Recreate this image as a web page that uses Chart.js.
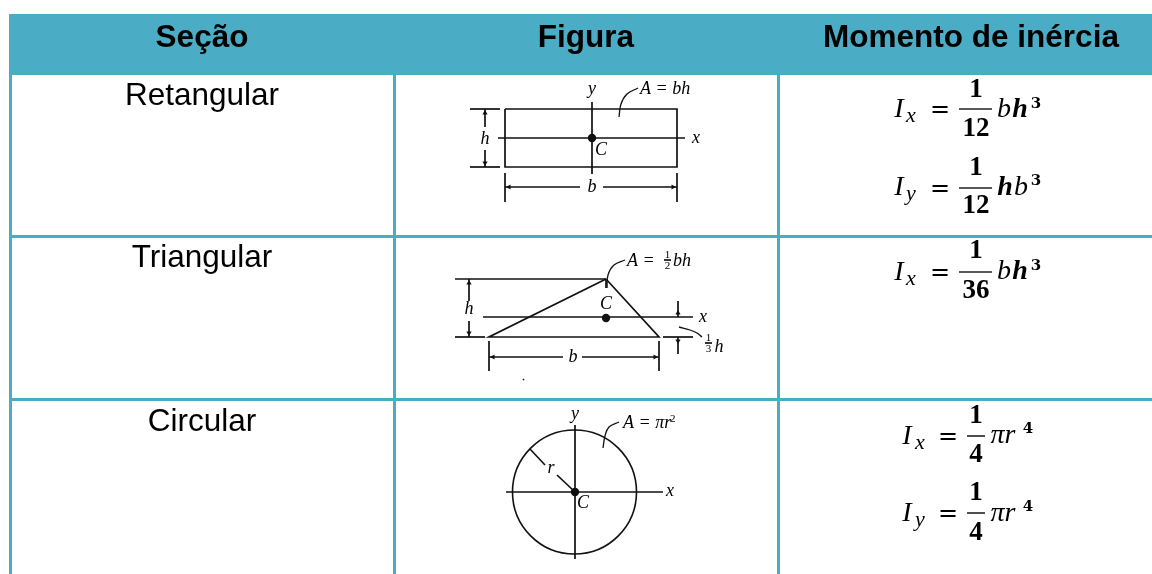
<!DOCTYPE html>
<html>
<head>
<meta charset="utf-8">
<title>Momento de inércia</title>
<script src="https://cdn.jsdelivr.net/npm/chart.js@4/dist/chart.umd.min.js"></script>
<style>
    html, body { margin: 0; padding: 0; background: #fff; }
    #wrap { width: 1152px; height: 574px; position: relative; }
</style>
</head>
<body>
<div id="wrap"><canvas id="myChart"></canvas></div>
<script>
// Table text
const headerTitles = ['Seção', 'Figura', 'Momento de inércia'];
const sectionNames = ['Retangular', 'Triangular', 'Circular'];

// Table rules, in picture units
const headerBand = [[9, 44.5], [1152, 44.5]];
const tableRules = [
    [[10.5, 14], [10.5, 574]],
    [[394.5, 75], [394.5, 574]],
    [[778.5, 75], [778.5, 574]],
    [[9, 236.5], [1152, 236.5]],
    [[9, 399.5], [1152, 399.5]],
];

// Rectangle figure
const rectLines = [
    [[505, 109], [677, 109], [677, 167], [505, 167], [505, 109]],
    [[498, 138], [685, 138]],
    [[592, 102], [592, 174]],
    [[470, 109], [500, 109]],
    [[470, 167], [500, 167]],
    [[485, 109], [485, 127]],
    [[485, 150], [485, 167]],
    [[505, 173], [505, 202]],
    [[677, 173], [677, 202]],
    [[505, 187], [580, 187]],
    [[603, 187], [677, 187]],
];
const rectLeader = [[638, 88], [627, 94], [621, 104], [619, 117]];

// Triangle figure
const triLines = [
    [[606, 279], [659, 337], [489, 337], [606, 279]],
    [[455, 279], [606, 279]],
    [[455, 337], [485, 337]],
    [[663, 337], [693, 337]],
    [[483, 317], [693, 317]],
    [[469, 279], [469, 301]],
    [[469, 321], [469, 337]],
    [[678, 301], [678, 317]],
    [[678, 337], [678, 354]],
    [[489, 341], [489, 371]],
    [[659, 341], [659, 371]],
    [[489, 357], [563, 357]],
    [[582, 357], [659, 357]],
    [[606, 279], [606, 288]],
    [[523, 380], [524, 379]],
];
const triLeaderTop = [[625, 260], [614, 265], [608, 275], [607, 288]];
const triLeaderSide = [[679, 327], [690, 330], [697, 333], [702, 337]];
const triFractionBars = [[[664, 260], [671, 260]], [[705, 343], [712, 343]]];

// Circle figure
const circleLines = [
    [[506, 492], [663, 492]],
    [[575, 425], [575, 559]],
    [[530, 449], [545, 465]],
    [[557, 475], [575, 492]],
];
const circleLeader = [[619, 422], [609, 427], [605, 436], [603, 448]];
const circleOutline = [{ x: 574.5, y: 492 }];

// Centroid dots, arrowheads
const centroids = [{ x: 592, y: 138 }, { x: 606, y: 318 }, { x: 575, y: 492 }];
const arrowsUp = [{ x: 485, y: 113 }, { x: 469, y: 283 }, { x: 678, y: 313 }];
const arrowsDown = [{ x: 485, y: 163 }, { x: 469, y: 333 }, { x: 678, y: 341 }];
const arrowsLeft = [{ x: 509, y: 187 }, { x: 493, y: 357 }];
const arrowsRight = [{ x: 673, y: 187 }, { x: 655, y: 357 }];

// Formula fraction bars
const formulaBars = [
    [[959, 109], [992, 109]],
    [[959, 188], [992, 188]],
    [[959, 272], [992, 272]],
    [[967, 436], [985, 436]],
    [[967, 513], [985, 513]],
];

// Fonts
const headFont = 'bold 31.5px "Liberation Sans"';
const cellFont = '31.5px "Liberation Sans"';
const figFont = 'italic 18px "Liberation Serif"';
const figSmall = '11px "Liberation Serif"';
const symFont = 'italic 28px "Liberation Serif"';
const subFont = 'italic 22px "Liberation Serif"';
const eqFont = '24px "DejaVu Serif"';
const numFont = 'bold 27px "Liberation Serif"';
const supFont = 'bold 15px "DejaVu Serif"';
const boldSym = 'italic bold 28px "Liberation Serif"';
const ink = '#111';

// Every text: string, x, y (baseline), font, alignment
const texts = [
    [headerTitles[0], 202, 47, headFont, 'center'],
    [headerTitles[1], 586, 47, headFont, 'center'],
    [headerTitles[2], 971, 47, headFont, 'center'],
    [sectionNames[0], 202, 105, cellFont, 'center'],
    [sectionNames[1], 202, 267, cellFont, 'center'],
    [sectionNames[2], 202, 431, cellFont, 'center'],

    ['y', 592, 94, figFont, 'center'],
    ['A = bh', 640, 94, figFont, 'left'],
    ['h', 485, 144, figFont, 'center'],
    ['x', 696, 143, figFont, 'center'],
    ['C', 601, 155, figFont, 'center'],
    ['b', 592, 192, figFont, 'center'],

    ['A =', 627, 266, figFont, 'left'],
    ['1', 667.5, 258, figSmall, 'center'],
    ['2', 667.5, 269, figSmall, 'center'],
    ['bh', 673, 266, figFont, 'left'],
    ['h', 469, 314, figFont, 'center'],
    ['C', 606, 309, figFont, 'center'],
    ['x', 703, 322, figFont, 'center'],
    ['1', 708.5, 341, figSmall, 'center'],
    ['3', 708.5, 352, figSmall, 'center'],
    ['h', 719, 352, figFont, 'center'],
    ['b', 573, 362, figFont, 'center'],

    ['y', 575, 419, figFont, 'center'],
    ['A = πr', 623, 428, figFont, 'left'],
    ['2', 670, 422, figSmall, 'left'],
    ['r', 551, 473, figFont, 'center'],
    ['C', 583, 508, figFont, 'center'],
    ['x', 670, 496, figFont, 'center'],

    ['I', 899, 117, symFont, 'center'],
    ['x', 911, 122, subFont, 'center'],
    ['=', 940, 117, eqFont, 'center'],
    ['1', 976, 97, numFont, 'center'],
    ['12', 976, 136, numFont, 'center'],
    ['b', 1004, 117, symFont, 'center'],
    ['h', 1020, 117, boldSym, 'center'],
    ['3', 1036, 108, supFont, 'center'],

    ['I', 899, 195, symFont, 'center'],
    ['y', 911, 200, subFont, 'center'],
    ['=', 940, 196, eqFont, 'center'],
    ['1', 976, 175, numFont, 'center'],
    ['12', 976, 213, numFont, 'center'],
    ['h', 1005, 195, boldSym, 'center'],
    ['b', 1021, 195, symFont, 'center'],
    ['3', 1036, 185, supFont, 'center'],

    ['I', 899, 280, symFont, 'center'],
    ['x', 911, 285, subFont, 'center'],
    ['=', 940, 280, eqFont, 'center'],
    ['1', 976, 258, numFont, 'center'],
    ['36', 976, 298, numFont, 'center'],
    ['b', 1004, 279, symFont, 'center'],
    ['h', 1020, 279, boldSym, 'center'],
    ['3', 1036, 270, supFont, 'center'],

    ['I', 907, 444, symFont, 'center'],
    ['x', 920, 449, subFont, 'center'],
    ['=', 948, 444, eqFont, 'center'],
    ['1', 976, 423, numFont, 'center'],
    ['4', 976, 462, numFont, 'center'],
    ['πr', 1003, 443, symFont, 'center'],
    ['4', 1028, 433, supFont, 'center'],

    ['I', 907, 521, symFont, 'center'],
    ['y', 920, 526, subFont, 'center'],
    ['=', 948, 521, eqFont, 'center'],
    ['1', 976, 500, numFont, 'center'],
    ['4', 976, 540, numFont, 'center'],
    ['πr', 1003, 521, symFont, 'center'],
    ['4', 1028, 511, supFont, 'center'],
];

const toPoints = (line) => line.map(([x, y]) => ({ x: x, y: y }));

function lineSet(line, color, width, tension) {
    return {
        type: 'scatter',
        data: toPoints(line),
        showLine: true,
        borderColor: color,
        borderWidth: width,
        pointRadius: 0,
        tension: tension || 0,
        fill: false,
        borderCapStyle: 'butt',
    };
}

function markSet(points, style, radius, rotation) {
    return {
        type: 'scatter',
        data: points,
        showLine: false,
        pointStyle: style,
        pointRadius: radius,
        rotation: rotation,
        backgroundColor: ink,
        borderColor: ink,
        borderWidth: 0,
    };
}

const datasets = [];
datasets.push(lineSet(headerBand, '#4BACC6', 61));
tableRules.forEach((l) => datasets.push(lineSet(l, '#4BACC6', 3)));
rectLines.concat(triLines, circleLines, triFractionBars).forEach((l) => datasets.push(lineSet(l, ink, 1.7)));
[rectLeader, triLeaderTop, triLeaderSide, circleLeader].forEach((l) => datasets.push(lineSet(l, ink, 1.3, 0.4)));
formulaBars.forEach((l) => datasets.push(lineSet(l, '#222', 1.6)));
datasets.push({
    type: 'scatter',
    data: circleOutline,
    showLine: false,
    pointStyle: 'circle',
    pointRadius: 62,
    backgroundColor: 'rgba(0,0,0,0)',
    borderColor: ink,
    borderWidth: 1.6,
});
datasets.push(markSet(centroids, 'circle', 4.2, 0));
datasets.push(markSet(arrowsUp, 'triangle', 3, 0));
datasets.push(markSet(arrowsDown, 'triangle', 3, 180));
datasets.push(markSet(arrowsLeft, 'triangle', 3, 270));
datasets.push(markSet(arrowsRight, 'triangle', 3, 90));

// Writes the table and figure texts through the chart scales
const textPlugin = {
    id: 'tableTexts',
    afterDatasetsDraw(chart) {
        const c = chart.ctx;
        const sx = chart.scales.x;
        const sy = chart.scales.y;
        c.save();
        c.fillStyle = '#000';
        c.textBaseline = 'alphabetic';
        texts.forEach(([str, x, y, font, align]) => {
            c.font = font;
            c.textAlign = align;
            c.fillText(str, sx.getPixelForValue(x), sy.getPixelForValue(y));
        });
        c.restore();
    },
};

const ctx = document.getElementById('myChart').getContext('2d');
const myChart = new Chart(ctx, {
    type: 'scatter',
    data: { datasets: datasets },
    options: {
        responsive: true,
        maintainAspectRatio: false,
        animation: false,
        layout: { padding: 0, autoPadding: false },
        plugins: { legend: { display: false }, tooltip: { enabled: false } },
        scales: {
            x: { type: 'linear', display: false, min: 0, max: 1152 },
            y: { type: 'linear', display: false, min: 0, max: 574, reverse: true },
        },
    },
    plugins: [textPlugin],
});
</script>
</body>
</html>
